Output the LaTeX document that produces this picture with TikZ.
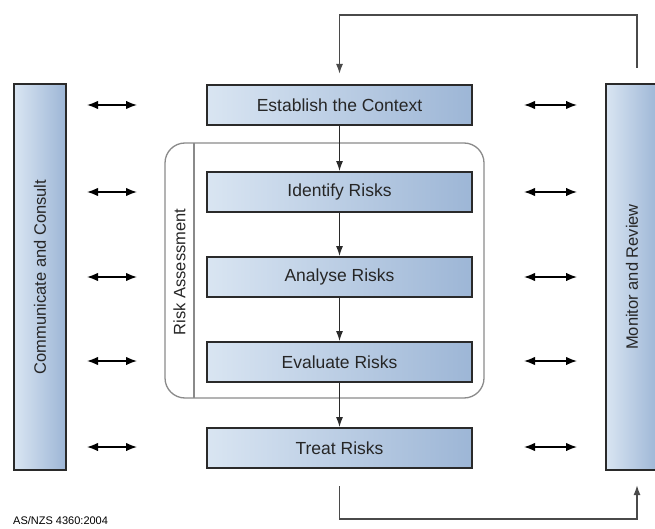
\documentclass[tikz,border=0pt]{standalone}
\usepackage{fontspec}
\setmainfont{Liberation Sans}
\usetikzlibrary{arrows.meta}
\definecolor{boxlight}{HTML}{D9E5F2}
\definecolor{boxdark}{HTML}{9DB6D6}
\definecolor{edgegray}{HTML}{2A2A2A}
\definecolor{textgray}{HTML}{262626}
\definecolor{framegray}{HTML}{8A8A8A}
\definecolor{loopgray}{HTML}{4A4A4A}
\tikzset{
  stepbox/.style={draw=edgegray, line width=1.8pt, left color=boxlight, right color=boxdark,
    minimum width=265pt, minimum height=40pt, inner sep=0pt, text=textgray,
    font=\fontsize{17.5}{20}\selectfont},
  sidebox/.style={draw=edgegray, line width=1.8pt, left color=boxlight, right color=boxdark,
    rotate=90, minimum width=386pt, minimum height=52pt, inner sep=0pt, text=textgray,
    font=\fontsize{16.5}{20}\selectfont},
  flow/.style={draw=edgegray, line width=1.3pt, -{Latex[length=10pt,width=7pt]}},
  twoway/.style={draw=black, line width=1.5pt, {Latex[length=11pt,width=8.5pt]}-{Latex[length=11pt,width=8.5pt]}},
  loopline/.style={draw=loopgray, line width=1.6pt}
}
\begin{document}
\begin{tikzpicture}[x=1pt, y=-1pt]
  \useasboundingbox (0,0) rectangle (655,529);

  % risk assessment frame with its label column
  \draw[framegray, line width=1.3pt, rounded corners=20pt] (165,143) rectangle (484,398);
  \draw[framegray, line width=1.3pt] (194,143) -- (194,398);
  \node[rotate=90, text=textgray, font=\fontsize{16.5}{18}\selectfont] (ralabel) at (179.5,272) {Risk Assessment};

  % process steps
  \node[stepbox] (ctx) at (339.5,105) {Establish the Context};
  \node[stepbox] (ident) at (339.5,192) {Identify Risks};
  \node[stepbox] (anal) at (339.5,277) {Analyse Risks};
  \node[stepbox] (eval) at (339.5,362) {Evaluate Risks};
  \node[stepbox] (treat) at (339.5,448) {Treat Risks};

  % side columns
  \node[sidebox] (comm) at (40,277) {Communicate and Consult};
  \node[sidebox] (mon) at (632,277) {Monitor and Review};

  % downward flow
  \draw[flow] (ctx) -- (ident);
  \draw[flow] (ident) -- (anal);
  \draw[flow] (anal) -- (eval);
  \draw[flow] (eval) -- (treat);

  % feedback loops
  \coordinate (topR) at (637,68);
  \coordinate (topL) at (339.5,74);
  \draw[loopline, -{Latex[length=10pt,width=7pt]}] (topR) |- (500,15) -| (topL);
  \coordinate (botL) at (339.5,486);
  \coordinate (botR) at (637,485);
  \draw[loopline, -{Latex[length=10pt,width=7pt]}] (botL) |- (500,519) -| (botR);

  % two-way links to the side columns
  \foreach \r/\yy in {1/105, 2/192, 3/277, 4/361, 5/447} {
    \coordinate (la\r) at (87,\yy);
    \coordinate (lb\r) at (137,\yy);
    \coordinate (ra\r) at (524,\yy);
    \coordinate (rb\r) at (577,\yy);
    \draw[twoway] (la\r) -- (lb\r);
    \draw[twoway] (ra\r) -- (rb\r);
  }

  % source note
  \node[anchor=base west, inner sep=0pt, text=black, font=\fontsize{11}{13}\selectfont] (src) at (13,524.5) {AS/NZS 4360:2004};
\end{tikzpicture}
\end{document}
